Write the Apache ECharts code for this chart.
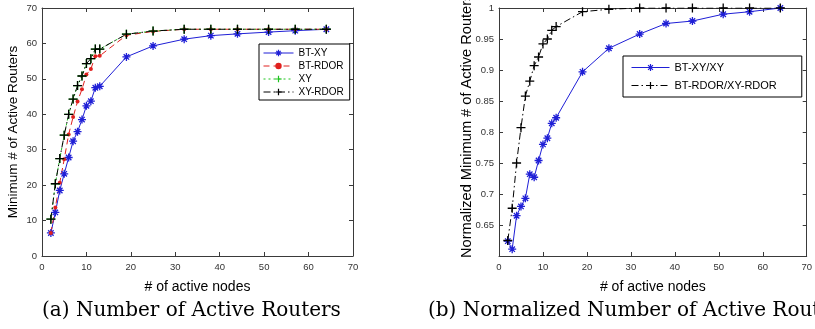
<!DOCTYPE html>
<html>
<head>
<meta charset="utf-8">
<script src="https://cdn.jsdelivr.net/npm/echarts@6/dist/echarts.min.js"></script>
<style>
  html, body { margin: 0; padding: 0; background: #fff; }
  #chart { width: 815px; height: 329px; }
</style>
</head>
<body>
<div id="chart"></div>
<script>
// x values shared by every curve
const nodes = [2, 3, 4, 5, 6, 7, 8, 9, 10, 11, 12, 13, 19, 25, 32, 38, 44, 51, 57, 64];

// (a) minimum number of active routers
const btXY   = [6.5, 12.3, 18.5, 23.2, 27.8, 32.4, 35.1, 38.5, 42.4, 43.7, 47.5, 47.9, 56.2, 59.3, 61.2, 62.2, 62.7, 63.2, 63.6, 64];
const btRDOR = [6.5, 13.7, 20.7, 27.3, 34.3, 39.2, 43.6, 47.1, 51.2, 52.8, 56.4, 56.5, 62.3, 63.4, 64, 64, 64, 64, 64, 64];
const xy     = [10.4, 20.4, 27.5, 34.1, 40.0, 44.3, 48.1, 50.8, 54.3, 55.7, 58.4, 58.4, 62.6, 63.5, 64, 64, 64, 64, 64, 64];
const xyRDOR = [10.4, 20.4, 27.5, 34.1, 40.0, 44.3, 48.1, 50.8, 54.3, 55.7, 58.4, 58.4, 62.6, 63.5, 64, 64, 64, 64, 64, 64];

// (b) normalized values
const normXY   = [0.624, 0.611, 0.665, 0.680, 0.693, 0.732, 0.727, 0.754, 0.780, 0.790, 0.814, 0.823, 0.897, 0.935, 0.958, 0.975, 0.979, 0.990, 0.994, 1.0];
const normRDOR = [0.625, 0.677, 0.750, 0.807, 0.858, 0.882, 0.907, 0.921, 0.942, 0.950, 0.964, 0.970, 0.994, 0.998, 1.0, 1.0, 1.0, 1.0, 1.0, 1.0];

const xTicks = { min: 0, max: 70, interval: 10 };
const leftY  = { min: 0, max: 70, interval: 10 };
const rightY = { min: 0.6, max: 1, interval: 0.05 };

const captions = ['(a) Number of Active Routers', '(b) Normalized Number of Active Routers'];

const pts = (ys) => nodes.map((x, i) => [x, ys[i]]);

const PLUS = 'path://M5,0L5,10M0,5L10,5';
const STAR = 'path://M5,0L5,10M0,5L10,5M1.6,1.6L8.4,8.4M1.6,8.4L8.4,1.6';
const SANS = 'Arial, "Liberation Sans", sans-serif';
const SERIF = '20px "DejaVu Serif", "Liberation Serif", serif';

function axisBox(gridIndex, pos, range, labels, formatter) {
  const isX = pos === 'bottom' || pos === 'top';
  return {
    type: 'value',
    gridIndex: gridIndex,
    position: pos,
    min: range.min,
    max: range.max,
    interval: range.interval,
    splitLine: { show: false },
    axisLine: { show: true, onZero: false, lineStyle: { color: '#3a3a3a', width: 1 } },
    axisTick: { show: true, inside: true, length: 4, lineStyle: { color: '#3a3a3a' } },
    axisLabel: {
      show: labels,
      fontSize: 9.5,
      fontFamily: SANS,
      color: '#333',
      margin: isX ? 6 : 5,
      formatter: formatter,
      showMinLabel: true,
      showMaxLabel: true
    }
  };
}

function line(name, ys, xi, yi, color, type, symbol, size) {
  return {
    name: name,
    type: 'line',
    xAxisIndex: xi,
    yAxisIndex: yi,
    data: pts(ys),
    symbol: symbol,
    symbolSize: size,
    showSymbol: true,
    lineStyle: { color: color, width: 1, type: type },
    itemStyle: symbol === 'circle'
      ? { color: color, borderWidth: 0 }
      : { color: 'rgba(0,0,0,0)', borderColor: color, borderWidth: 1.3 },
    emphasis: { disabled: true },
    animation: false
  };
}

const normFmt = (v) => {
  if (Math.abs(v - 0.6) < 1e-6) return '';
  return String(parseFloat(v.toFixed(2)));
};

const chart = echarts.init(document.getElementById('chart'), null, { renderer: 'canvas' });

const nameStyle = { fontSize: 14, fontFamily: SANS, color: '#000' };

const xa0 = axisBox(0, 'bottom', xTicks, true);
xa0.name = '# of active nodes';
xa0.nameLocation = 'middle';
xa0.nameGap = 24;
xa0.nameTextStyle = nameStyle;

const ya0 = axisBox(0, 'left', leftY, true);
ya0.name = 'Minimum # of Active Routers';
ya0.nameLocation = 'middle';
ya0.nameGap = 22;
ya0.nameTextStyle = { fontSize: 13.5, fontFamily: SANS, color: '#000' };

const xa1 = axisBox(1, 'bottom', xTicks, true);
xa1.name = '# of active nodes';
xa1.nameLocation = 'middle';
xa1.nameGap = 24;
xa1.nameTextStyle = nameStyle;

const ya1 = axisBox(1, 'left', rightY, true, normFmt);

const legendBase = {
  orient: 'vertical',
  backgroundColor: '#fff',
  borderColor: '#000',
  borderWidth: 1,
  borderRadius: 0,
  lineStyle: { width: 1 },
  itemStyle: { borderWidth: 1.2 }
};

const option = {
  backgroundColor: '#fff',
  animation: false,
  grid: [
    { left: 42, top: 8, width: 311, height: 248 },
    { left: 499, top: 8, width: 314, height: 248 }
  ],
  xAxis: [
    xa0,
    axisBox(0, 'top', xTicks, false),
    xa1,
    axisBox(1, 'top', xTicks, false)
  ],
  yAxis: [
    ya0,
    axisBox(0, 'right', leftY, false),
    ya1,
    axisBox(1, 'right', rightY, false)
  ],
  legend: [
    Object.assign({}, legendBase, {
      data: ['BT-XY', 'BT-RDOR', 'XY', 'XY-RDOR'],
      left: 259,
      top: 44,
      padding: [4, 6, 3, 4],
      itemGap: 3,
      itemWidth: 30,
      itemHeight: 8,
      textStyle: { fontSize: 10, fontFamily: SANS, color: '#000' }
    }),
    Object.assign({}, legendBase, {
      data: ['BT-XY/XY', 'BT-RDOR/XY-RDOR'],
      left: 623,
      top: 56,
      padding: [6, 25, 6, 8],
      itemGap: 7,
      itemWidth: 38,
      itemHeight: 9,
      textStyle: { fontSize: 11, fontFamily: SANS, color: '#000' }
    })
  ],
  series: [
    line('BT-XY', btXY, 0, 0, '#1f1fd6', 'solid', STAR, 8),
    line('BT-RDOR', btRDOR, 0, 0, '#e0201e', [6, 4], 'circle', 4),
    line('XY', xy, 0, 0, '#1fc41f', [2, 3], PLUS, 9),
    line('XY-RDOR', xyRDOR, 0, 0, '#000', [7, 3, 1.5, 3], PLUS, 9),
    line('BT-XY/XY', normXY, 2, 2, '#1f1fd6', 'solid', STAR, 8),
    line('BT-RDOR/XY-RDOR', normRDOR, 2, 2, '#000', [7, 3, 1.5, 3], PLUS, 9)
  ],
  graphic: [
    {
      type: 'text', x: 474, y: 258, rotation: Math.PI / 2,
      style: {
        text: 'Normalized Minimum # of Active Routers',
        font: '14.6px Arial, "Liberation Sans", sans-serif',
        fill: '#000', textAlign: 'left', textVerticalAlign: 'bottom'
      }
    },
    {
      type: 'text', left: 42, top: 301,
      style: { text: captions[0], font: SERIF, fill: '#000' }
    },
    {
      type: 'text', left: 428, top: 301,
      style: { text: captions[1], font: SERIF, fill: '#000' }
    }
  ]
};

chart.setOption(option);
</script>
</body>
</html>
